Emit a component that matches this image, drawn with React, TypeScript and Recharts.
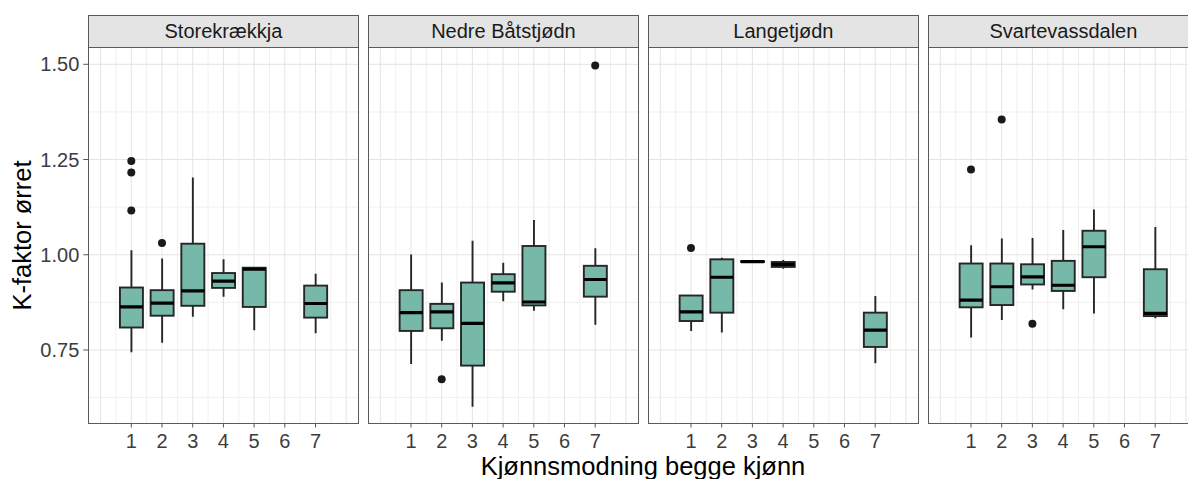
import React from 'react';
import { ComposedChart, Bar, Scatter, XAxis, YAxis, CartesianGrid } from 'recharts';

const lakes = ['Storekrækkja', 'Nedre Båtstjødn', 'Langetjødn', 'Svartevassdalen'];
const xTicks = [1, 2, 3, 4, 5, 6, 7];
const yTicks = [0.75, 1.0, 1.25, 1.5];
const yMinor = [0.625, 0.875, 1.125, 1.375];
const xMajorGrid = [0, 1, 2, 3, 4, 5, 6, 7, 8];
const xMinorGrid = [0.5, 1.5, 2.5, 3.5, 4.5, 5.5, 6.5, 7.5];

// box stats per lake: whisker low, Q1, median, Q3, whisker high
const storekraekkjaBoxes = [
  { cat: 1, lo: 0.744, q1: 0.809, med: 0.863, q3: 0.914, hi: 1.012 },
  { cat: 2, lo: 0.769, q1: 0.84, med: 0.873, q3: 0.907, hi: 0.99 },
  { cat: 3, lo: 0.837, q1: 0.866, med: 0.905, q3: 1.029, hi: 1.203 },
  { cat: 4, lo: 0.89, q1: 0.913, med: 0.931, q3: 0.952, hi: 0.988 },
  { cat: 5, lo: 0.802, q1: 0.863, med: 0.962, q3: 0.966, hi: 0.966 },
  { cat: 7, lo: 0.794, q1: 0.835, med: 0.872, q3: 0.919, hi: 0.95 },
];
const storekraekkjaOutliers = [
  { cat: 1, v: 1.246 },
  { cat: 1, v: 1.216 },
  { cat: 1, v: 1.116 },
  { cat: 2, v: 1.031 },
];

const nedreBoxes = [
  { cat: 1, lo: 0.713, q1: 0.8, med: 0.848, q3: 0.907, hi: 1.001 },
  { cat: 2, lo: 0.774, q1: 0.807, med: 0.85, q3: 0.871, hi: 0.927 },
  { cat: 3, lo: 0.601, q1: 0.709, med: 0.82, q3: 0.927, hi: 1.037 },
  { cat: 4, lo: 0.878, q1: 0.903, med: 0.926, q3: 0.949, hi: 0.979 },
  { cat: 5, lo: 0.853, q1: 0.867, med: 0.876, q3: 1.023, hi: 1.091 },
  { cat: 7, lo: 0.816, q1: 0.89, med: 0.935, q3: 0.971, hi: 1.017 },
];
const nedreOutliers = [
  { cat: 2, v: 0.673 },
  { cat: 7, v: 1.497 },
];

const langeBoxes = [
  { cat: 1, lo: 0.8, q1: 0.826, med: 0.85, q3: 0.893, hi: 0.893 },
  { cat: 2, lo: 0.796, q1: 0.848, med: 0.941, q3: 0.988, hi: 0.992 },
  { cat: 3, lo: 0.981, q1: 0.981, med: 0.982, q3: 0.983, hi: 0.983 },
  { cat: 4, lo: 0.963, q1: 0.968, med: 0.975, q3: 0.981, hi: 0.986 },
  { cat: 7, lo: 0.715, q1: 0.758, med: 0.802, q3: 0.848, hi: 0.892 },
];
const langeOutliers = [{ cat: 1, v: 1.018 }];

const svartevassBoxes = [
  { cat: 1, lo: 0.783, q1: 0.862, med: 0.881, q3: 0.977, hi: 1.025 },
  { cat: 2, lo: 0.829, q1: 0.868, med: 0.916, q3: 0.977, hi: 1.043 },
  { cat: 3, lo: 0.909, q1: 0.922, med: 0.942, q3: 0.975, hi: 1.044 },
  { cat: 4, lo: 0.857, q1: 0.905, med: 0.92, q3: 0.984, hi: 1.065 },
  { cat: 5, lo: 0.846, q1: 0.941, med: 1.021, q3: 1.063, hi: 1.119 },
  { cat: 7, lo: 0.833, q1: 0.839, med: 0.846, q3: 0.962, hi: 1.073 },
];
const svartevassOutliers = [
  { cat: 1, v: 1.224 },
  { cat: 2, v: 1.355 },
  { cat: 3, v: 0.819 },
];

const panelBoxes = [storekraekkjaBoxes, nedreBoxes, langeBoxes, svartevassBoxes];
const panelOutliers = [storekraekkjaOutliers, nedreOutliers, langeOutliers, svartevassOutliers];

const FONT = '"Liberation Sans", Arial, sans-serif';
const PANEL_LEFTS = [88.3, 368.3, 648.3, 928.3];
const PANEL_W = 270.2;
const PLOT_TOP = 48;
const PLOT_H = 375.5;
const STRIP_TOP = 14.5;
const AXIS_W = 88.3;
const Y_DOMAIN = [0.557, 1.5428];
const X_DOMAIN = [-0.4, 8.4];
const EDGE = '#262626';

const BoxShape = (props: any) => {
  const { x, y, width, height, payload } = props;
  if (!payload) return null;
  const { lo, q1, med, q3, hi } = payload;
  const top = Math.min(y, y + height);
  const h = Math.abs(height);
  const ppu = hi > lo ? h / (hi - lo) : 0;
  const py = (v: number) => top + (hi - v) * ppu;
  const cx = x + width / 2;
  return (
    <g>
      <line x1={cx} x2={cx} y1={py(hi)} y2={py(q3)} stroke={EDGE} strokeWidth={1.9} />
      <line x1={cx} x2={cx} y1={py(q1)} y2={py(lo)} stroke={EDGE} strokeWidth={1.9} />
      <rect x={x} y={py(q3)} width={width} height={Math.max(py(q1) - py(q3), 0)} fill="#76b9a8" stroke={EDGE} strokeWidth={1.9} />
      <line x1={x} x2={x + width} y1={py(med)} y2={py(med)} stroke="#000" strokeWidth={3.2} />
    </g>
  );
};

const Dot = (props: any) => <circle cx={props.cx} cy={props.cy} r={4} fill="#1a1a1a" />;

function Panel({ index }: { index: number }) {
  const first = index === 0;
  const w = (first ? AXIS_W : 0) + PANEL_W;
  return (
    <div style={{ position: 'absolute', left: first ? 0 : PANEL_LEFTS[index], top: PLOT_TOP }}>
      <ComposedChart
        width={w}
        height={PLOT_H + 40}
        data={panelBoxes[index]}
        margin={{ top: 0, right: 0, bottom: 0, left: 0 }}
      >
        <CartesianGrid
          horizontalValues={yMinor}
          verticalValues={xMinorGrid}
          stroke="#f0f0f0"
          strokeWidth={1}
        />
        <CartesianGrid
          horizontalValues={yTicks}
          verticalValues={xMajorGrid}
          stroke="#e4e4e4"
          strokeWidth={1}
        />
        <XAxis
          dataKey="cat"
          type="number"
          domain={X_DOMAIN}
          allowDataOverflow
          ticks={xTicks}
          interval={0}
          height={40}
          axisLine={false}
          tickLine={{ stroke: '#555' }}
          tickSize={4}
          tickMargin={6}
          tick={{ fill: '#3d3d3d', fontSize: 20, fontFamily: FONT }}
        />
        <YAxis
          type="number"
          domain={Y_DOMAIN}
          allowDataOverflow
          ticks={yTicks}
          hide={!first}
          width={AXIS_W}
          axisLine={false}
          tickLine={{ stroke: '#555' }}
          tickSize={5}
          tickMargin={4}
          tickFormatter={(v: number) => v.toFixed(2)}
          tick={{ fill: '#3d3d3d', fontSize: 20, fontFamily: FONT }}
        />
        <Bar
          dataKey={(d: any) => [d.lo, d.hi]}
          barSize={23}
          shape={BoxShape}
          isAnimationActive={false}
        />
        <Scatter data={panelOutliers[index]} dataKey="v" shape={Dot} isAnimationActive={false} />
      </ComposedChart>
    </div>
  );
}

export default function App() {
  return (
    <div
      style={{
        position: 'absolute',
        left: 0,
        top: 0,
        width: 1188,
        height: 479,
        overflow: 'hidden',
        background: '#fff',
        fontFamily: FONT,
      }}
    >
      {lakes.map((name, i) => (
        <React.Fragment key={name}>
          <div
            style={{
              position: 'absolute',
              left: PANEL_LEFTS[i] - 0.5,
              top: STRIP_TOP,
              width: PANEL_W + 1,
              height: PLOT_TOP - STRIP_TOP,
              boxSizing: 'border-box',
              border: '1.4px solid #5a5a5a',
              background: '#e4e4e4',
              color: '#1a1a1a',
              fontSize: 20,
              lineHeight: `${PLOT_TOP - STRIP_TOP - 3}px`,
              textAlign: 'center',
            }}
          >
            {name}
          </div>
          <Panel index={i} />
          <div
            style={{
              position: 'absolute',
              left: PANEL_LEFTS[i] - 0.7,
              top: PLOT_TOP - 0.7,
              width: PANEL_W + 1.4,
              height: PLOT_H + 1.4,
              boxSizing: 'border-box',
              border: '1.4px solid #5a5a5a',
              pointerEvents: 'none',
            }}
          />
        </React.Fragment>
      ))}
      <svg width={1188} height={479} style={{ position: 'absolute', left: 0, top: 0, pointerEvents: 'none' }}>
        <text x={643} y={475} textAnchor="middle" fontSize={25.5} fontFamily={FONT} fill="#000">
          Kjønnsmodning begge kjønn
        </text>
        <text
          transform="translate(31,235.5) rotate(-90)"
          textAnchor="middle"
          fontSize={25.5}
          fontFamily={FONT}
          fill="#000"
        >
          K-faktor ørret
        </text>
      </svg>
    </div>
  );
}
